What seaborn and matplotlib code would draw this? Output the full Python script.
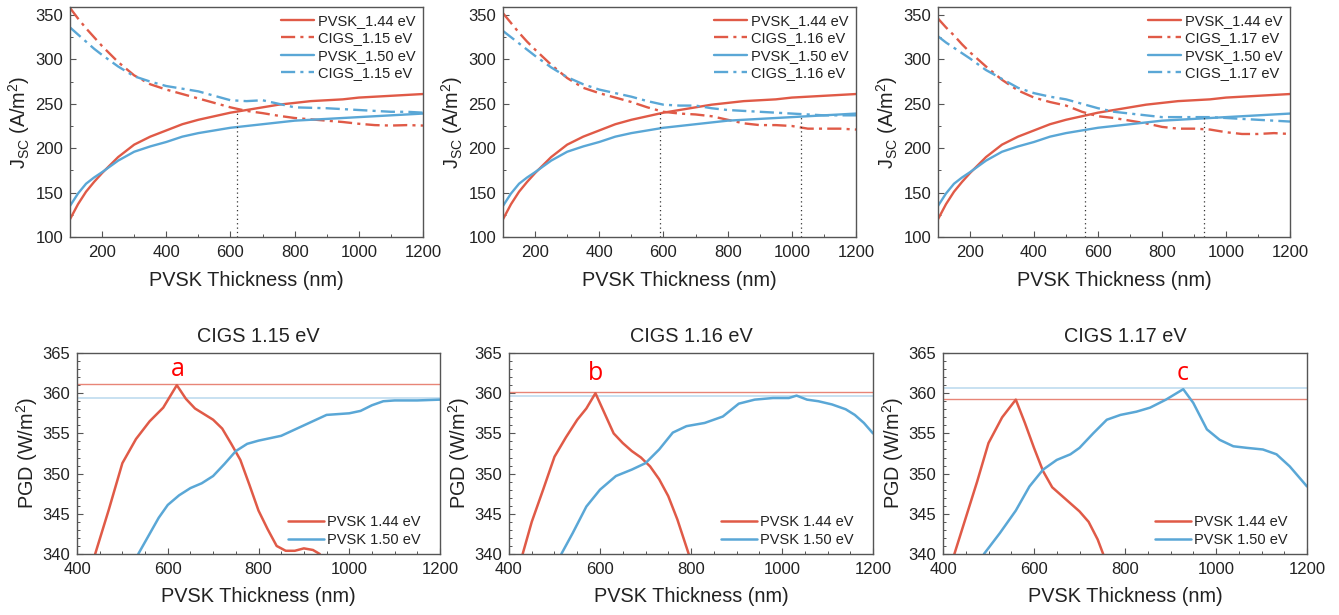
import numpy as np
import pandas as pd
import matplotlib
matplotlib.use("Agg")
import matplotlib.pyplot as plt
import seaborn as sns
from matplotlib.ticker import MultipleLocator

sns.set_theme(style="white")
plt.rcParams['font.family'] = ['Liberation Sans', 'DejaVu Sans']
plt.rcParams['mathtext.fontset'] = 'custom'
plt.rcParams['mathtext.rm'] = 'Liberation Sans'
plt.rcParams['mathtext.it'] = 'Liberation Sans'

RED = '#E05A47'
BLUE = '#5AA7D6'
RED_H = '#E88577'
BLUE_H = '#C4DEF0'

# ---------------- Top row data (Jsc vs thickness) ----------------
x_top = [100, 125, 150, 175, 200, 250, 300, 350, 400, 450, 500, 550, 600, 650, 700, 750,
         800, 850, 900, 950, 1000, 1050, 1100, 1150, 1200]
pvsk_144 = [120, 137, 151, 162, 172, 190, 204, 213, 220, 227, 232, 236, 240, 243, 246, 249,
            251, 253, 254, 255, 257, 258, 259, 260, 261]
pvsk_150 = [135, 149, 160, 167, 173, 186, 196, 202, 207, 213, 217, 220, 223, 225, 227, 229,
            231, 232, 233, 234, 235, 236, 237, 238, 239]
cigs_115_r = [358, 346, 335, 325, 315, 297, 282, 272, 266, 261, 256, 251, 246, 242, 239.5, 236.5,
              234, 232.5, 231, 229.5, 227.5, 226, 225.5, 226, 225.5]
cigs_115_b = [336, 328, 320, 312, 305, 292, 281, 275, 270, 267, 264, 259, 254, 253, 254, 250,
              246, 245.5, 245, 244, 243, 242, 241, 241, 240]
cigs_116_r = [352, 341, 330, 320, 311, 294, 279, 268, 262, 257, 252, 246, 241, 239, 238, 236,
              232, 228, 226, 226, 225, 222, 222, 222, 221]
cigs_116_b = [332, 325, 318, 311, 304, 291, 280, 272, 266, 262, 258, 253, 249, 248, 248, 245,
              243, 242, 241, 240, 239, 238, 237, 237, 237]
cigs_117_r = [346, 336, 327, 317, 308, 292, 277, 265, 257, 252, 248, 241, 236, 234, 231, 228,
              224, 222, 222, 221, 218, 216, 216, 217, 216]
cigs_117_b = [326, 319, 313, 307, 301, 288, 278, 268, 262, 258, 255, 250, 245, 241, 239, 237,
              235, 235, 235, 235, 234, 233, 232, 231, 230]

cigs_labels = ['1.15', '1.16', '1.17']
cigs_red_series = [cigs_115_r, cigs_116_r, cigs_117_r]
cigs_blue_series = [cigs_115_b, cigs_116_b, cigs_117_b]
match_x = [[620], [590, 1030], [560, 930]]
match_y = [[243], [241, 237], [238, 236]]

# ---------------- Bottom row data (PGD vs thickness) ----------------
p1_red_x = [440, 470, 500, 530, 560, 590, 620, 640, 660, 680, 700, 720, 740, 760,
            780, 800, 820, 840, 860, 880, 900, 920, 935]
p1_red_y = [340, 345.5, 351.3, 354.3, 356.5, 358.2, 361.0, 359.3, 358.1, 357.4, 356.7,
            355.6, 353.7, 351.7, 348.6, 345.4, 343.1, 341.0, 340.4, 340.4, 340.7, 340.5, 340]
p1_blue_x = [535, 560, 580, 600, 625, 650, 675, 700, 725, 750, 775, 800, 850, 900,
             950, 1000, 1025, 1050, 1075, 1100, 1150, 1200]
p1_blue_y = [340, 342.5, 344.5, 346.1, 347.3, 348.2, 348.8, 349.7, 351.2, 352.8, 353.7,
             354.1, 354.7, 356.0, 357.3, 357.5, 357.8, 358.5, 359.0, 359.1, 359.1, 359.2]
p1_hlines = [361.1, 359.4]

p2_red_x = [430, 450, 475, 500, 525, 550, 570, 590, 610, 630, 650, 670, 690, 710,
            730, 750, 770, 795]
p2_red_y = [340, 344, 348, 352.1, 354.5, 356.7, 358.1, 360.0, 357.5, 355, 353.8, 352.8,
            352.0, 350.9, 349.3, 347.2, 344.3, 340]
p2_blue_x = [515, 540, 570, 600, 635, 670, 700, 730, 760, 790, 830, 870, 905, 940,
             980, 1015, 1032, 1055, 1080, 1110, 1140, 1160, 1180, 1200]
p2_blue_y = [340, 342.6, 345.9, 348.0, 349.7, 350.5, 351.3, 353.0, 355.1, 355.9, 356.3,
             357.1, 358.7, 359.2, 359.4, 359.4, 359.7, 359.2, 359.0, 358.6, 358.0, 357.3,
             356.3, 355.0]
p2_hlines = [360.2, 359.6]

p3_red_x = [425, 450, 475, 500, 530, 560, 580, 600, 620, 640, 660, 680, 700, 720, 740, 752]
p3_red_y = [340, 344.5, 349, 353.8, 357, 359.2, 356.3, 353.2, 350.3, 348.3, 347.3, 346.3,
            345.3, 344.0, 341.8, 340]
p3_blue_x = [490, 525, 560, 590, 620, 650, 680, 700, 730, 760, 790, 825, 855, 890, 928,
             950, 980, 1008, 1038, 1068, 1103, 1133, 1162, 1200]
p3_blue_y = [340, 342.6, 345.4, 348.4, 350.5, 351.7, 352.4, 353.2, 355.0, 356.7, 357.3,
             357.7, 358.2, 359.2, 360.5, 358.8, 355.5, 354.2, 353.4, 353.2, 353.0, 352.4,
             350.9, 348.4]
p3_hlines = [359.3, 360.6]

peak_labels = ['a', 'b', 'c']
peak_x = [622, 590, 926]
peak_y = [363.0, 362.4, 362.4]

bottom = [
    (p1_red_x, p1_red_y, p1_blue_x, p1_blue_y, p1_hlines),
    (p2_red_x, p2_red_y, p2_blue_x, p2_blue_y, p2_hlines),
    (p3_red_x, p3_red_y, p3_blue_x, p3_blue_y, p3_hlines),
]

# ---------------- Figure ----------------
fig = plt.figure(figsize=(13.39, 6.15), dpi=100)
W, H = 1339, 615

def add_axes(left, top, right, bottom_px):
    return fig.add_axes([left / W, 1 - bottom_px / H, (right - left) / W, (bottom_px - top) / H])

top_pos = [(70, 7, 423, 237), (503, 7, 856, 237), (938, 7, 1290, 237)]
bot_pos = [(77, 353, 440, 554), (509, 353, 873, 554), (943, 353, 1307, 554)]

TXT = '#222222'
SPINE = '#555555'
dashdot = (0, (6, 2.2, 1.3, 2.2))
TICK_FS = 12
LAB_FS = 14.3

def style_axes(ax):
    for s in ax.spines.values():
        s.set_color(SPINE)
        s.set_linewidth(1.0)
    ax.tick_params(axis='both', which='both', direction='in', colors=SPINE,
                   labelcolor=TXT, labelsize=TICK_FS, top=False, right=False,
                   left=True, bottom=True)
    ax.tick_params(axis='x', which='both', pad=6)
    ax.tick_params(axis='y', which='both', pad=5)
    ax.tick_params(which='major', length=4, width=0.8)
    ax.tick_params(which='minor', length=2, width=0.7)
    ax.set_facecolor('white')

for i in range(3):
    l, t, r, b = top_pos[i]
    ax = add_axes(l, t, r, b)
    lab = cigs_labels[i]
    df = pd.DataFrame({'x': x_top, 'p144': pvsk_144, 'cr': cigs_red_series[i],
                       'p150': pvsk_150, 'cb': cigs_blue_series[i]})
    sns.lineplot(data=df, x='x', y='p144', ax=ax, color=RED, lw=1.7,
                 label='PVSK_1.44 eV')
    sns.lineplot(data=df, x='x', y='cr', ax=ax, color=RED, lw=1.7,
                 linestyle=dashdot, label=f'CIGS_{lab} eV')
    sns.lineplot(data=df, x='x', y='p150', ax=ax, color=BLUE, lw=1.7,
                 label='PVSK_1.50 eV')
    sns.lineplot(data=df, x='x', y='cb', ax=ax, color=BLUE, lw=1.7,
                 linestyle=dashdot, label=f'CIGS_{lab} eV')
    for mx, my in zip(match_x[i], match_y[i]):
        ax.vlines(mx, 100, my, colors='#333333', linestyles=(0, (1, 2.5)), lw=0.9)
    ax.set_xlim(100, 1200)
    ax.set_ylim(100, 359)
    ax.xaxis.set_major_locator(MultipleLocator(200))
    ax.xaxis.set_minor_locator(MultipleLocator(100))
    ax.yaxis.set_major_locator(MultipleLocator(50))
    ax.yaxis.set_minor_locator(MultipleLocator(25))
    ax.set_xticks([200, 400, 600, 800, 1000, 1200])
    style_axes(ax)
    ax.set_xlabel('PVSK Thickness (nm)', fontsize=LAB_FS, color=TXT, labelpad=8)
    ax.set_ylabel(r'J$_\mathregular{SC}$ (A/m$^\mathregular{2}$)', fontsize=LAB_FS,
                  color=TXT, labelpad=2)
    leg = ax.legend(loc='upper right', frameon=False, fontsize=10.5,
                    handlelength=2.3, handletextpad=0.25, labelspacing=0.22,
                    borderaxespad=0.3, borderpad=0.2)
    for txt in leg.get_texts():
        txt.set_color(TXT)

for i in range(3):
    l, t, r, b = bot_pos[i]
    ax = add_axes(l, t, r, b)
    rx, ry, bx, by, hl = bottom[i]
    ax.axhline(hl[0], color=RED_H, lw=1.0, zorder=1)
    ax.axhline(hl[1], color=BLUE_H, lw=1.3, zorder=1)
    sns.lineplot(x=rx, y=ry, ax=ax, color=RED, lw=1.8, label='PVSK 1.44 eV')
    sns.lineplot(x=bx, y=by, ax=ax, color=BLUE, lw=1.8, label='PVSK 1.50 eV')
    ax.text(peak_x[i], peak_y[i], peak_labels[i], color='#FF0000', fontsize=18,
            ha='center', va='center', family=['Open Sans', 'DejaVu Sans'])
    ax.set_xlim(400, 1200)
    ax.set_ylim(340, 365)
    ax.xaxis.set_major_locator(MultipleLocator(200))
    ax.xaxis.set_minor_locator(MultipleLocator(50))
    ax.yaxis.set_major_locator(MultipleLocator(5))
    ax.yaxis.set_minor_locator(MultipleLocator(1))
    style_axes(ax)
    ax.set_title(f'CIGS {cigs_labels[i]} eV', fontsize=LAB_FS, color=TXT, pad=8)
    ax.set_xlabel('PVSK Thickness (nm)', fontsize=LAB_FS, color=TXT, labelpad=7)
    ax.set_ylabel(r'PGD (W/m$^\mathregular{2}$)', fontsize=LAB_FS, color=TXT, labelpad=2)
    leg = ax.legend(loc='lower right', frameon=False, fontsize=10.5,
                    handlelength=2.5, handletextpad=0.2, labelspacing=0.22,
                    bbox_to_anchor=(1 - 12 / 363, 0.0), borderaxespad=0.3,
                    borderpad=0.2)
    for txt in leg.get_texts():
        txt.set_color(TXT)

fig.savefig('out.png', dpi=100, facecolor='white')
